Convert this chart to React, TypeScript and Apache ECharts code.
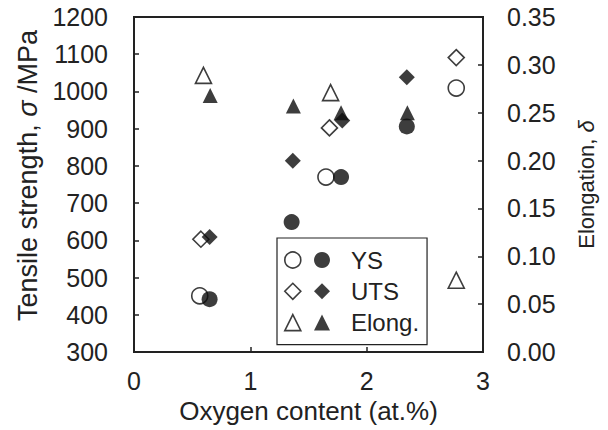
import React, { useEffect, useRef } from 'react';
import * as echarts from 'echarts';

// Open-symbol series
const ysOpenX = [0.565, 1.65, 2.77];
const ysOpen = [451, 770, 1009];
const utsOpenX = [0.575, 1.68, 2.77];
const utsOpen = [603, 902, 1091];
const elongOpenX = [0.597, 1.69, 2.77];
const elongOpen = [0.289, 0.271, 0.075];

// Filled-symbol series
const ysX = [0.65, 1.355, 1.78, 2.345];
const ys = [442, 649, 770, 906];
const utsX = [0.65, 1.365, 1.79, 2.345];
const uts = [609, 814, 922, 1038];
const elongX = [0.655, 1.37, 1.78, 2.35];
const elong = [0.268, 0.257, 0.25, 0.25];

// Axis ranges
const xRange = [0, 3, 1];
const leftRange = [300, 1200, 100];
const rightRange = [0, 0.35, 0.05];

const legendNames = ['YS', 'UTS', 'Elong.'];
const legendOpenNames = ['YS (open)', 'UTS (open)', 'Elong. (open)'];
const legendIcons = ['circle', 'diamond', 'triangle'];

const FONT = "'Liberation Sans', Arial, Helvetica, sans-serif";
const INK = '#0d0d0d';
const TEXT = '#222';

const pts = (xs: number[], ys: number[]) => xs.map((x, i) => [x, ys[i]]);

export default function App() {
  const ref = useRef<HTMLDivElement>(null);
  useEffect(() => {
    if (!ref.current) return;
    const chart = echarts.init(ref.current, null, { renderer: 'svg' });
    const openStyle = { color: '#fff', borderColor: INK, borderWidth: 1.6 };
    const filledStyle = { color: INK };
    const tickLabel = { fontSize: 25, color: TEXT, fontFamily: FONT };
    chart.setOption({
      animation: false,
      backgroundColor: '#fff',
      textStyle: { fontFamily: FONT },
      grid: { left: 134, right: 125, top: 17, bottom: 78, show: true, borderColor: '#222', borderWidth: 2 },
      xAxis: {
        type: 'value', min: xRange[0], max: xRange[1], interval: xRange[2],
        axisLine: { show: true, lineStyle: { color: '#222', width: 2 } },
        axisTick: { show: true, inside: true, length: 5, lineStyle: { color: '#222', width: 1.5 } },
        axisLabel: { ...tickLabel, margin: 16, formatter: (v: number) => String(v) },
        splitLine: { show: false },
        name: 'Oxygen content (at.%)', nameLocation: 'middle', nameGap: 44,
        nameTextStyle: { fontSize: 26, color: TEXT, fontFamily: FONT },
      },
      yAxis: [
        {
          type: 'value', position: 'left', min: leftRange[0], max: leftRange[1], interval: leftRange[2],
          axisLine: { show: true, lineStyle: { color: '#222', width: 2 } },
          axisTick: { show: true, inside: true, length: 5, lineStyle: { color: '#222', width: 1.5 } },
          axisLabel: { ...tickLabel, margin: 26, formatter: (v: number) => String(v) },
          splitLine: { show: false },
          name: 'Tensile strength, {i|σ} /MPa', nameLocation: 'middle', nameGap: 91,
          nameTextStyle: {
            fontSize: 27, color: TEXT, fontFamily: FONT, padding: [0, 0, 0, 18],
            rich: { i: { fontStyle: 'italic', fontSize: 27, color: TEXT, fontFamily: FONT } },
          },
        },
        {
          type: 'value', position: 'right', min: rightRange[0], max: rightRange[1], interval: rightRange[2],
          axisLine: { show: true, lineStyle: { color: '#222', width: 2 } },
          axisTick: { show: true, inside: true, length: 5, lineStyle: { color: '#222', width: 1.5 } },
          axisLabel: { ...tickLabel, margin: 24, formatter: (v: number) => v.toFixed(2) },
          splitLine: { show: false },
          name: 'Elongation, {i|δ}', nameLocation: 'middle', nameGap: 92,
          nameTextStyle: {
            fontSize: 22, color: TEXT, fontFamily: FONT,
            rich: { i: { fontStyle: 'italic', fontSize: 22, color: TEXT, fontFamily: FONT } },
          },
        },
      ],
      legend: [
        {
          orient: 'vertical', left: 277, top: 238, itemWidth: 16, itemHeight: 16, itemGap: 7.3,
          padding: [10, 8, 10, 37], borderColor: '#222', borderWidth: 1.2, selectedMode: false,
          textStyle: { fontSize: 24, color: TEXT, fontFamily: FONT, padding: [0, 0, 0, 16] },
          data: legendNames.map((n, i) => ({ name: n, icon: legendIcons[i], itemStyle: filledStyle })),
        },
        {
          orient: 'vertical', left: 284, top: 248, itemWidth: 16, itemHeight: 16, itemGap: 7.3,
          padding: 0, selectedMode: false, formatter: () => ' ',
          textStyle: { fontSize: 24, color: TEXT, fontFamily: FONT },
          data: legendOpenNames.map((n, i) => ({ name: n, icon: legendIcons[i], itemStyle: openStyle })),
        },
      ],
      series: [
        { name: legendOpenNames[0], type: 'scatter', symbol: 'circle', symbolSize: 16, itemStyle: openStyle, data: pts(ysOpenX, ysOpen) },
        { name: legendOpenNames[1], type: 'scatter', symbol: 'diamond', symbolSize: 16, itemStyle: openStyle, data: pts(utsOpenX, utsOpen) },
        { name: legendOpenNames[2], type: 'scatter', symbol: 'triangle', symbolSize: 16, yAxisIndex: 1, itemStyle: openStyle, data: pts(elongOpenX, elongOpen) },
        { name: legendNames[0], type: 'scatter', symbol: 'circle', symbolSize: 16, itemStyle: filledStyle, data: pts(ysX, ys) },
        { name: legendNames[1], type: 'scatter', symbol: 'diamond', symbolSize: 16, itemStyle: filledStyle, data: pts(utsX, uts) },
        { name: legendNames[2], type: 'scatter', symbol: 'triangle', symbolSize: 15, yAxisIndex: 1, itemStyle: filledStyle, data: pts(elongX, elong) },
      ],
    });
    return () => chart.dispose();
  }, []);
  return <div ref={ref} style={{ position: 'absolute', left: 0, top: 0, width: 608, height: 430 }} />;
}
